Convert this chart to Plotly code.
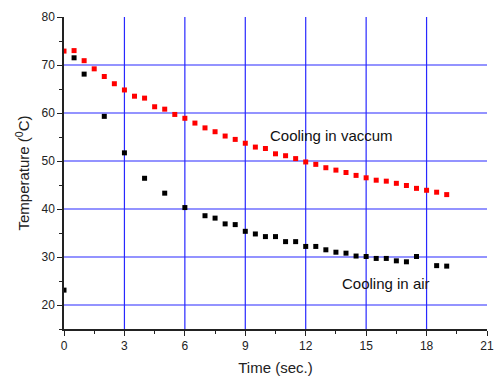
import plotly.graph_objects as go

# Cooling in vaccum (red)
vac_t = [0, 0.5, 1, 1.5, 2, 2.5, 3, 3.5, 4, 4.5, 5, 5.5, 6, 6.5, 7, 7.5, 8, 8.5, 9, 9.5,
         10, 10.5, 11, 11.5, 12, 12.5, 13, 13.5, 14, 14.5, 15, 15.5, 16, 16.5, 17, 17.5,
         18, 18.5, 19]
vac_T = [72.9, 73.0, 70.9, 69.2, 67.6, 66.1, 64.8, 63.5, 63.1, 61.3, 60.8, 59.7, 58.9, 57.9,
         56.9, 56.1, 55.2, 54.5, 53.7, 52.9, 52.6, 51.5, 51.1, 50.5, 49.8, 49.3, 48.6, 48.1,
         47.6, 47.0, 46.5, 46.0, 45.8, 45.35, 44.9, 44.3, 43.9, 43.5, 43.0]

# Cooling in air (black)
air_t = [0, 0.5, 1, 2, 3, 4, 5, 6, 7, 7.5, 8, 8.5, 9, 9.5, 10, 10.5, 11, 11.5, 12, 12.5,
         13, 13.5, 14, 14.5, 15, 15.5, 16, 16.5, 17, 17.5, 18.5, 19]
air_T = [23.1, 71.5, 68.1, 59.3, 51.7, 46.4, 43.3, 40.3, 38.6, 38.1, 36.9, 36.75, 35.35, 34.8,
         34.25, 34.25, 33.2, 33.2, 32.2, 32.2, 31.5, 31.0, 30.8, 30.2, 30.1, 29.7, 29.7, 29.2,
         29.0, 30.1, 28.2, 28.1]

x_ticks = [0, 3, 6, 9, 12, 15, 18, 21]
y_ticks = [20, 30, 40, 50, 60, 70, 80]
x_grid = [3, 6, 9, 12, 15, 18]
y_grid = [20, 30, 40, 50, 60, 70]

labels = ["Cooling in vaccum", "Cooling in air"]
label_x = [13.3, 16.0]
label_y = [55.4, 24.5]

FONT = "Liberation Sans, Arial, sans-serif"
GRID = "rgb(40,40,255)"

fig = go.Figure()
fig.add_trace(go.Scatter(x=vac_t, y=vac_T, mode="markers",
                         marker=dict(symbol="square", size=5, color="#ff0000", line=dict(width=0)),
                         name="vaccum"))
fig.add_trace(go.Scatter(x=air_t, y=air_T, mode="markers",
                         marker=dict(symbol="square", size=5, color="#000000", line=dict(width=0)),
                         name="air"))

shapes = []
for gx in x_grid:
    shapes.append(dict(type="line", xref="x", yref="paper", x0=gx, x1=gx, y0=0, y1=1,
                       line=dict(color=GRID, width=1.2), layer="below"))
for gy in y_grid:
    shapes.append(dict(type="line", xref="paper", yref="y", x0=0, x1=1, y0=gy, y1=gy,
                       line=dict(color=GRID, width=1.2), layer="below"))

annotations = [dict(x=lx, y=ly, xref="x", yref="y", text=t, showarrow=False,
                    font=dict(family=FONT, size=15, color="#111111"))
               for t, lx, ly in zip(labels, label_x, label_y)]

fig.update_layout(
    width=496, height=377,
    margin=dict(l=64, r=9, t=17, b=48, autoexpand=False),
    paper_bgcolor="white", plot_bgcolor="white",
    showlegend=False,
    shapes=shapes, annotations=annotations,
    font=dict(family=FONT, size=12, color="#222222"),
    xaxis=dict(range=[0, 21], tickvals=x_ticks, showgrid=False, zeroline=False,
               automargin=False,
               showline=True, linecolor="#222222", linewidth=1.5,
               ticks="outside", ticklen=5, tickwidth=1.2, tickcolor="#222222",
               minor=dict(dtick=1.5, ticks="outside", ticklen=3, tickcolor="#222222", showgrid=False),
               title=dict(text="Time (sec.)", font=dict(size=15), standoff=10),
               tickfont=dict(size=12)),
    yaxis=dict(range=[15, 80], tickvals=y_ticks, showgrid=False, zeroline=False,
               automargin=False,
               showline=True, linecolor="#222222", linewidth=1.5,
               ticks="outside", ticklen=5, tickwidth=1.2, tickcolor="#222222",
               minor=dict(dtick=5, ticks="outside", ticklen=3, tickcolor="#222222", showgrid=False),
               title=dict(text="Temperature (<sup>0</sup>C)", font=dict(size=15), standoff=8),
               tickfont=dict(size=12)),
)

fig.write_html("out.html")
